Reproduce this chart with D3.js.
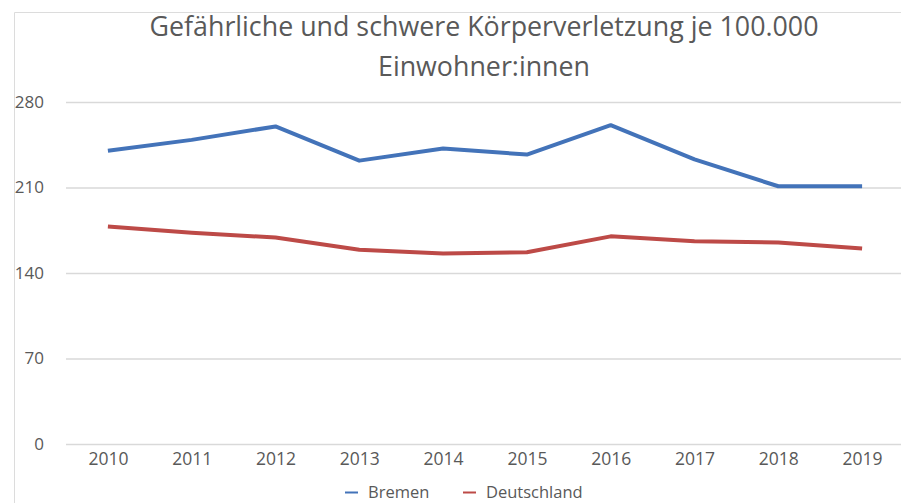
<!DOCTYPE html>
<html>
<head>
<meta charset="utf-8">
<script src="https://cdn.jsdelivr.net/npm/d3@7"></script>
<style>
  html, body { margin: 0; padding: 0; background: #ffffff; }
  svg { display: block; font-family: "Open Sans", "Noto Sans", sans-serif; }
</style>
</head>
<body>
<svg id="chart" width="901" height="503"></svg>
<script>
// Gefährliche und schwere Körperverletzung je 100.000 Einwohner:innen
const years = ["2010", "2011", "2012", "2013", "2014", "2015", "2016", "2017", "2018", "2019"];
const bremen = [240, 249, 260, 232, 242, 237, 261, 233, 211, 211];
const deutschland = [178, 173, 169, 159, 156, 157, 170, 166, 165, 160];
const yTicks = [0, 70, 140, 210, 280];
const seriesNames = ["Bremen", "Deutschland"];
const seriesColors = ["#4373b9", "#bd4a47"];
const titleLines = ["Gefährliche und schwere Körperverletzung je 100.000", "Einwohner:innen"];

const svg = d3.select("#chart");
const W = 901, H = 503;
const textColor = "#595959";

// outer frame (top and left edges visible)
svg.append("path")
  .attr("d", `M14.5,${H} V12.5 H${W}`)
  .attr("fill", "none")
  .attr("stroke", "#dcdcdc")
  .attr("stroke-width", 1);

// title
svg.append("g")
  .selectAll("text")
  .data(titleLines)
  .join("text")
  .attr("x", 484)
  .attr("y", (d, i) => 36 + i * 40)
  .attr("text-anchor", "middle")
  .attr("fill", textColor)
  .attr("font-size", 26.8)
  .text(d => d);

// scales
const x = d3.scalePoint().domain(years).range([66, 904]).padding(0.5);
const y = d3.scaleLinear().domain([0, 280]).range([444, 102]);

// horizontal gridlines + y labels
const yAxis = d3.axisLeft(y).tickValues(yTicks).tickSize(-(904 - 66)).tickPadding(22).tickFormat(d3.format("d"));
const gy = svg.append("g").attr("transform", "translate(66,0)").call(yAxis);
gy.select(".domain").remove();
gy.selectAll(".tick line").attr("stroke", "#d9d9d9").attr("stroke-width", 1.5);
gy.selectAll(".tick text")
  .attr("fill", textColor)
  .attr("font-size", 17)
  .attr("font-family", "'Open Sans', sans-serif");

// x labels
const xAxis = d3.axisBottom(x).tickSize(0).tickPadding(9);
const gx = svg.append("g").attr("transform", "translate(0,444)").call(xAxis);
gx.select(".domain").remove();
gx.selectAll(".tick text")
  .attr("fill", textColor)
  .attr("font-size", 17.5)
  .attr("font-family", "'Open Sans', sans-serif");

// lines
const line = d3.line().x((d, i) => x(years[i])).y(d => y(d));
[bremen, deutschland].forEach((vals, k) => {
  svg.append("path")
    .datum(vals)
    .attr("fill", "none")
    .attr("stroke", seriesColors[k])
    .attr("stroke-width", 4)
    .attr("stroke-linejoin", "round")
    .attr("d", line);
});

// legend
const legendItems = [{ x: 345 }, { x: 463 }];
const lg = svg.append("g");
seriesNames.forEach((name, k) => {
  const lx = legendItems[k].x;
  lg.append("line")
    .attr("x1", lx).attr("x2", lx + 13)
    .attr("y1", 492.5).attr("y2", 492.5)
    .attr("stroke", seriesColors[k])
    .attr("stroke-width", 2);
  lg.append("text")
    .attr("x", lx + 23)
    .attr("y", 497.5)
    .attr("fill", textColor)
    .attr("font-size", 16.5)
    .text(name);
});
</script>
</body>
</html>
